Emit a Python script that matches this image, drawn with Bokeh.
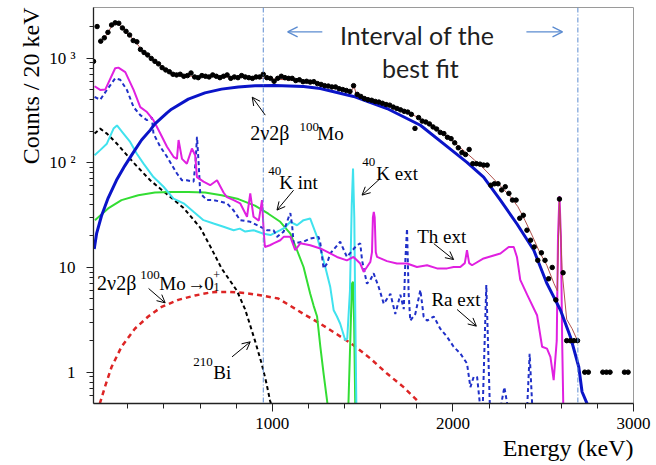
import math
from bokeh.plotting import figure
from bokeh.models import Range1d, FixedTicker, Label, Arrow, OpenHead, Span, Title
from bokeh.embed import file_html
from bokeh.resources import INLINE

# ---------------- data ----------------
data_energy = [10, 30, 50, 70, 90, 110, 130, 150, 170, 190, 210, 230, 250, 270, 290, 310, 330, 350, 370, 390,
               410, 430, 450, 470, 490, 510, 530, 550, 570, 590, 610, 630, 650, 670, 690, 710, 730, 750, 770, 790,
               810, 830, 850, 870, 890, 910, 930, 950, 970, 990, 1010, 1030, 1050, 1070, 1090, 1110, 1130, 1150,
               1170, 1190, 1210, 1230, 1250, 1270, 1290, 1310, 1330, 1350, 1370, 1390, 1410, 1430, 1450, 1470,
               1490, 1510, 1530, 1550, 1570, 1590, 1610, 1630, 1650, 1670, 1690, 1710, 1730, 1750, 1770, 1790,
               1810, 1830, 1850, 1870, 1890, 1910, 1930, 1950, 1970, 1990, 2010, 2030, 2050, 2070, 2090, 2110,
               2130, 2150, 2170, 2190, 2210, 2230, 2250, 2270, 2290, 2310, 2330, 2350, 2370, 2390, 2410, 2430,
               2450, 2470, 2490, 2510, 2530, 2550, 2570, 2590, 2610, 2630, 2650, 2670, 2690, 2730, 2750, 2830,
               2850, 2870, 2950, 2970]
data_counts = [930, 2000, 1450, 1560, 1760, 2070, 2170, 2150, 1940, 1800, 1660, 1470, 1430, 1210, 1130, 1070, 990, 930, 880, 810,
               770, 740, 700, 690, 700, 670, 680, 720, 660, 650, 680, 670, 660, 690, 670, 650, 670, 690, 640, 660,
               650, 680, 660, 650, 640, 660, 660, 700, 650, 640, 600, 640, 670, 650, 640, 640, 610, 620,
               595, 600, 590, 595, 570, 560, 545, 540, 530, 530, 510, 500, 490, 480, 545, 450,
               430, 410, 400, 395, 385, 380, 370, 360, 355, 340, 330, 320, 310, 305, 290, 213,
               270, 250, 245, 235, 220, 210, 195, 190, 175, 170, 155, 139, 125, 120, 134, 98,
               98, 97, 95, 95, 61, 63, 63, 55, 59, 51, 44, 44, 29.5, 31.5, 22.7, 18.2,
               15.7, 11.7, 13.8, 11.7, 7.8, 10, 4.9, 45, 8.9, 2, 2, 2, 2, 1, 1, 1,
               1, 1, 1, 1]

fit_energy = [50, 80, 110, 140, 170, 200, 240, 280, 320, 360, 400, 440, 480, 520, 560, 600, 640, 680, 720, 760,
              800, 840, 880, 920, 960, 1000, 1040, 1080, 1120, 1160, 1200, 1240, 1280, 1320, 1360, 1400, 1440,
              1452, 1465, 1480, 1520, 1560, 1600, 1640, 1680, 1720, 1760, 1800, 1840, 1880, 1920, 1960, 2000,
              2040, 2080, 2120, 2160, 2200, 2240, 2280, 2320, 2360, 2400, 2440, 2480, 2520, 2560, 2578, 2590,
              2605, 2630, 2660, 2690]
fit_counts = [1450, 1650, 2000, 2150, 1950, 1700, 1450, 1180, 1030, 900, 790, 720, 690, 670, 670, 665, 665, 665, 660, 660,
              655, 655, 650, 645, 640, 630, 625, 620, 610, 600, 590, 575, 560, 540, 520, 500, 490,
              545, 450, 445, 420, 395, 375, 355, 335, 315, 295, 275, 252, 228, 205, 182, 160,
              140, 122, 106, 92, 78, 66, 56, 47, 38, 28, 20, 14, 10.5, 7, 6, 45,
              9, 3.2, 2.6, 2.0]

mo2nu_energy = [14, 27, 54, 91, 137, 184, 230, 276, 324, 350, 417, 442, 535, 627, 719, 812, 904, 1015, 1173, 1266,
                1450, 1635, 1820, 1986, 2078, 2170, 2263, 2355, 2448, 2521, 2596, 2651, 2697, 2715, 2743]
mo2nu_counts = [15, 21, 31, 46, 68, 94, 125, 165, 205, 235, 300, 325, 405, 465, 505, 530, 543, 548, 535, 512,
                430, 330, 228, 135, 101, 73, 44, 26, 14.6, 7.0, 3.9, 2.17, 1.12, 0.65, 0.5]

th_energy = [16, 47, 75, 130, 148, 186, 232, 269, 306, 342, 380, 417, 453, 472, 481, 500, 527, 555, 573, 583,
             619, 656, 694, 730, 749, 786, 822, 860, 878, 896, 925, 943, 952, 959, 987, 1007, 1044, 1063, 1100,
             1127, 1155, 1210, 1266, 1321, 1358, 1413, 1450, 1487, 1506, 1524, 1543, 1552, 1557, 1562, 1567,
             1573, 1580, 1635, 1690, 1746, 1801, 1857, 1912, 1968, 2004, 2041, 2066, 2078, 2090, 2106, 2170,
             2263, 2309, 2337, 2355, 2373, 2411, 2466, 2494, 2521, 2540, 2558, 2575, 2582, 2590, 2598, 2605,
             2612]
th_counts = [538, 496, 500, 800, 810, 735, 496, 340, 305, 255, 190, 142, 114, 109, 165, 109, 98, 137, 118, 73,
             66, 61, 68, 52, 47, 44, 41, 30.5, 51, 30.5, 28, 44, 22.7, 15.7, 16.3, 17, 18.2, 19.6, 19.6,
             14.6, 17, 16.3, 15.2, 13.6, 12.6, 11.7, 12.6, 10.9, 9.1, 10.1, 11.3, 14, 30, 34, 30,
             14, 12.6, 11.5, 10.9, 10.9, 10.1, 10.5, 9.8, 9.8, 10.1, 10.1, 11, 14.6, 11, 10.5, 12.2,
             13.6, 15.7, 15.7, 12.5, 7.6, 5.5, 3.5, 1.75, 1.68, 1.4, 0.84, 2, 20, 48, 20, 2,
             0.4]

ra_energy = [16, 47, 84, 130, 158, 195, 232, 269, 306, 333, 342, 380, 417, 472, 500, 527, 564, 575, 583, 592,
             601, 638, 675, 712, 749, 786, 822, 878, 933, 970, 1007, 1026, 1063, 1090, 1100, 1110, 1118, 1173,
             1210, 1256, 1266, 1284, 1303, 1321, 1376, 1413, 1450, 1469, 1487, 1497, 1524, 1543, 1561, 1589,
             1598, 1617, 1654, 1681, 1709, 1728, 1737, 1746, 1755, 1764, 1792, 1820, 1838, 1857, 1894, 1930,
             1968, 2004, 2041, 2078, 2097, 2115, 2134, 2152, 2165, 2185, 2205, 2263, 2285, 2305, 2411, 2425,
             2440]
ra_counts = [425, 400, 496, 640, 620, 496, 340, 285, 255, 272, 190, 142, 114, 79, 68, 68, 66, 100, 177, 100,
             51, 44, 44, 42.5, 41, 35, 28.3, 27.3, 24.5, 22.7, 22.7, 19.6, 22, 30, 33, 25, 17, 17.6,
             18.9, 19.6, 17, 9.8, 10.9, 13.6, 17.6, 12.6, 15, 16.3, 17, 11.7, 7.0, 7.6, 8.8, 6.5,
             5.8, 4.5, 5.6, 3.6, 5.5, 4, 12, 23.5, 5.6, 3.1, 3.6, 6.1, 3.4, 3.1, 3.4, 2.6,
             2.17, 1.75, 1.51, 1.21, 0.72, 0.9, 0.9, 0.45, 0.45, 6.8, 0.45, 0.45, 0.72, 0.45, 0.45, 1.5,
             0.45]

k40ext_energy = [16, 47, 84, 121, 140, 176, 213, 250, 287, 342, 398, 453, 509, 564, 619, 675, 730, 786, 820, 850,
                 896, 952, 990, 1044, 1070, 1100, 1137, 1173, 1210, 1248, 1284, 1321, 1340, 1358, 1376, 1404,
                 1415, 1430, 1440, 1447, 1454, 1460, 1466]
k40ext_counts = [118, 132, 152, 212, 227, 190, 158, 122, 98, 73, 59, 45.5, 41, 34, 28.3, 26.3, 24.5, 22.7, 23.5, 22,
                 22.7, 21, 20.4, 22.7, 24, 27.3, 25.3, 28.3, 29.3, 19.6, 11.7, 6.5, 3.9, 3.4, 2.9, 2.02,
                 2.1, 6, 40, 88, 30, 3, 0.4]

k40int_energy = [18, 91, 165, 258, 350, 442, 535, 627, 719, 812, 904, 978, 1044, 1100, 1137, 1173, 1210, 1229,
                 1248, 1266, 1284, 1303, 1312, 1420, 1441, 1447, 1453, 1460]
k40int_counts = [28.3, 36.6, 44, 49, 52, 52.7, 52.7, 52, 49, 45, 39, 32.6, 27.3, 21, 14.6, 10.1, 5.6, 4.3,
                 3.4, 1.75, 0.97, 0.54, 0.4, 0.4, 7.0, 7.3, 3, 0.4]

bi_energy = [16, 47, 84, 140, 232, 324, 417, 509, 601, 660, 719, 804, 849, 867, 904, 941, 968, 987, 1000]
bi_counts = [190, 212, 190, 152, 100, 68, 50, 37, 24, 15.5, 9.8, 6.0, 4.0, 3.2, 2.0, 1.21, 0.78, 0.54, 0.45]

mo01_energy = [45, 73, 110, 165, 239, 313, 387, 479, 572, 664, 756, 849, 941, 1033, 1081, 1173, 1266, 1358, 1450,
               1543, 1635, 1727, 1801, 1830]
mo01_counts = [0.5, 0.72, 1.12, 1.75, 2.6, 3.4, 4.2, 4.9, 5.4, 5.8, 5.85, 5.7, 5.4, 5.05, 4.5, 3.6, 2.9, 2.3, 1.81,
               1.35, 0.97, 0.72, 0.54, 0.45]

fit_window = [950, 2692]
x_ticks = [1000, 2000, 3000]
x_minor = [200, 400, 600, 800, 1200, 1400, 1600, 1800, 2200, 2400, 2600, 2800]
y_ticks = [1, 10, 100, 1000]
y_tick_labels = ["1", "10", "10 \u00b2", "10 \u00b3"]
y_minor = [0.6, 0.7, 0.8, 0.9, 2, 3, 4, 5, 6, 7, 8, 9, 20, 30, 40, 50, 60, 70, 80, 90,
           200, 300, 400, 500, 600, 700, 800, 900, 2000]

# ---------------- figure ----------------
SERIF = "Liberation Serif"
p = figure(width=656, height=465, x_range=Range1d(10, 3000), y_range=Range1d(0.502, 3040),
           y_axis_type="log", output_backend="svg", toolbar_location=None,
           min_border_left=93, min_border_right=23, min_border_top=7, min_border_bottom=62)
p.grid.visible = False
p.outline_line_color = "#9a9a9a"
p.outline_line_width = 1

for ax in (p.xaxis, p.yaxis):
    ax.axis_line_color = "#222222"
    ax.axis_line_width = 1.3
    ax.major_tick_line_color = "#222222"
    ax.minor_tick_line_color = "#222222"
    ax.major_label_text_font = SERIF
    ax.major_label_text_font_size = "17px"
    ax.major_label_text_color = "black"
    ax.major_tick_in = 0
    ax.minor_tick_in = 0

p.xaxis.ticker = FixedTicker(ticks=x_ticks, minor_ticks=x_minor)
p.xaxis.major_tick_out = 8
p.xaxis.minor_tick_out = 5
p.xaxis.major_label_standoff = 6

p.yaxis.ticker = FixedTicker(ticks=y_ticks, minor_ticks=y_minor)
p.yaxis.major_label_overrides = {t: s for t, s in zip(y_ticks, y_tick_labels)}
p.yaxis.major_tick_out = 7
p.yaxis.minor_tick_out = 4
p.yaxis.major_label_standoff = 11

# axis titles (as side titles so they can be aligned like the reference)
p.add_layout(Title(text="Energy (keV)", align="right", vertical_align="top", text_font=SERIF,
                   text_font_size="24px", text_font_style="normal", text_color="black", standoff=6), "below")
p.add_layout(Title(text="Counts / 20 keV", align="right", text_font=SERIF, text_font_size="24px",
                   text_font_style="normal", text_color="black", standoff=5), "left")

# fit window
for loc in fit_window:
    p.add_layout(Span(location=loc, dimension="height", line_color="#5b8bd0",
                      line_width=1, line_dash="5 2 1 2"))

# components
p.line(mo01_energy, mo01_counts, line_color="#dd2525", line_width=2.5, line_dash="5 4")
p.line(bi_energy, bi_counts, line_color="black", line_width=2, line_dash="4 3")
p.line(k40int_energy, k40int_counts, line_color="#33dd33", line_width=2)
p.line(k40ext_energy, k40ext_counts, line_color="#40e2ee", line_width=2)
p.line(ra_energy, ra_counts, line_color="#2030c8", line_width=2, line_dash="4 3")
p.line(th_energy, th_counts, line_color="#e020e0", line_width=2)
p.line(mo2nu_energy, mo2nu_counts, line_color="#0a14c8", line_width=3)
p.line(fit_energy, fit_counts, line_color="#b0524c", line_width=1)
p.scatter(data_energy, data_counts, size=4.5, color="black")


def txt(s, x, y, size, align="left", font=SERIF, color="black", angle=0):
    p.add_layout(Label(x=x, y=y, text=s, text_font=font, text_font_size=f"{size}px",
                       text_align=align, text_baseline="alphabetic", text_color=color, angle=angle))


def arrow(x0, y0, x1, y1, color="black", width=1, size=8):
    p.add_layout(Arrow(end=OpenHead(size=size, line_color=color, line_width=width),
                       x_start=x0, y_start=y0, x_end=x1, y_end=y1,
                       line_color=color, line_width=width))


# 2v2b Mo
txt("2\u03bd2\u03b2", 878, 192, 20)
txt("100", 1150, 219, 13)
txt("Mo", 1249, 192, 19)
arrow(961, 285, 889, 423)
# 40K int
txt("40", 978, 83, 13)
txt("K int", 1039, 65, 19)
arrow(1118, 54.7, 1026, 35.3)
# 40K ext
txt("40", 1498, 101, 13)
txt("K ext", 1576, 79.5, 19)
arrow(1598, 70.8, 1497, 49.1)
# Th ext
txt("Th ext", 1802, 19.9, 19)
arrow(1894, 16.9, 2004, 11.9)
# Ra ext
txt("Ra ext", 1881, 4.95, 19)
arrow(2023, 3.97, 2130, 2.75)
# 2v2b Mo -> 0+1
txt("2\u03bd2\u03b2", 30, 7.08, 20)
txt("100", 269, 8.44, 13)
txt("Mo", 374, 7.08, 19)
txt("\u2192", 529, 7.08, 19)
txt("0", 623, 7.08, 19)
txt("1", 675, 6.45, 12)
txt("+", 673, 8.4, 12)
arrow(315, 6.30, 407, 4.59)
# 210Bi
txt("210", 562, 1.25, 13)
txt("Bi", 673, 1.0, 19)
arrow(777, 1.40, 878, 1.95)

# interval of the best fit
txt("Interval of the", 1802, 1655, 25, align="center", font="Lato", color="#1f1f1f")
txt("best fit", 1820, 796, 25, align="center", font="Lato", color="#1f1f1f")
arrow(1277, 1780, 1085, 1780, color="#5b8bd0", width=1.3, size=10)
arrow(2407, 1780, 2607, 1780, color="#5b8bd0", width=1.3, size=10)

open("out.html", "w").write(file_html(p, INLINE))
